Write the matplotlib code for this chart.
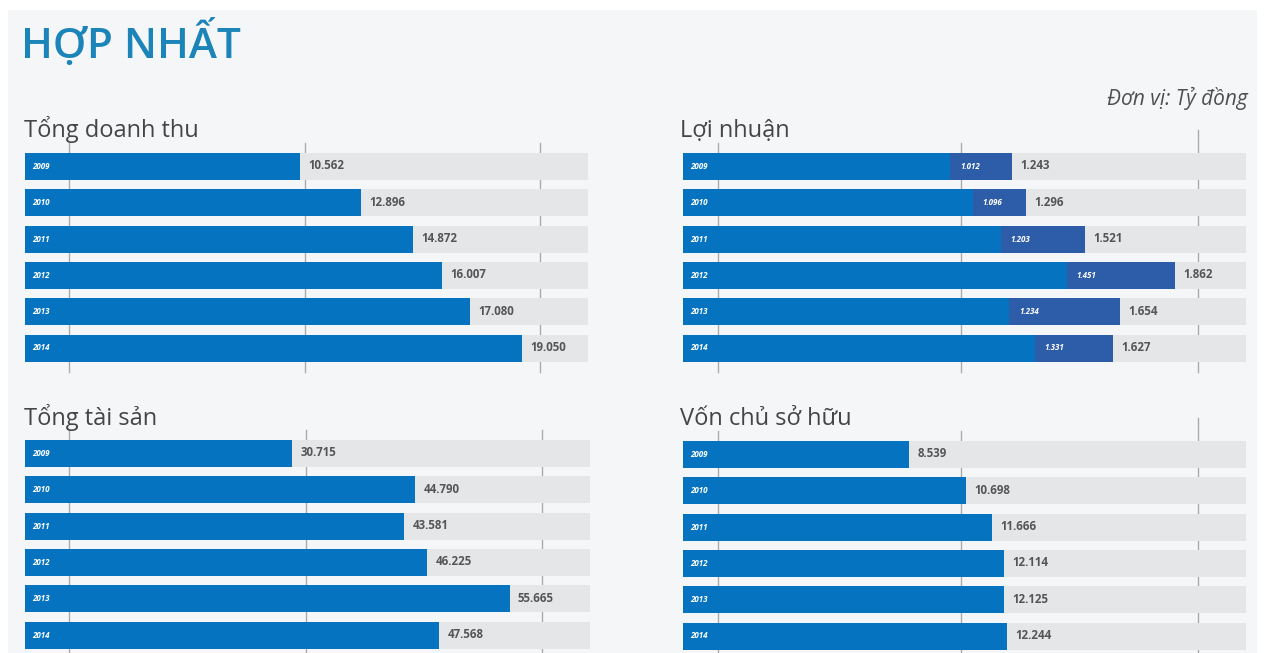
import matplotlib
matplotlib.use("Agg")
import matplotlib.pyplot as plt
from matplotlib.patches import Rectangle

plt.rcParams['font.family'] = ['Open Sans', 'DejaVu Sans']

years = ["2009", "2010", "2011", "2012", "2013", "2014"]
revenue = [10562, 12896, 14872, 16007, 17080, 19050]
profit_pre = [1243, 1296, 1521, 1862, 1654, 1627]
profit_after = [1012, 1096, 1203, 1451, 1234, 1331]
assets = [30715, 44790, 43581, 46225, 55665, 47568]
equity = [8539, 10698, 11666, 12114, 12125, 12244]

titles = ["Tổng doanh thu", "Lợi nhuận", "Tổng tài sản", "Vốn chủ sở hữu"]


def fmt(v):
    return f"{v:,}".replace(",", ".")


W, H = 1265, 653
fig = plt.figure(figsize=(W / 100, H / 100), dpi=100)
fig.patch.set_facecolor("white")
fig.add_artist(Rectangle((8 / W, 0), (W - 16) / W, (H - 10) / H,
                         transform=fig.transFigure, facecolor="#f5f6f7",
                         edgecolor="none", zorder=0))

BLUE = "#0673c0"
DARK = "#2d5ca8"
GREY_BG = "#e5e6e8"
GRID = "#a9abae"
TXT = "#555555"

pitch = 36.3
BAR_PX = 27
PAD_PX = 10
bh = BAR_PX / pitch


def make_axes(x0, x1, y0):
    h = 5 * pitch + BAR_PX + 2 * PAD_PX
    ax = fig.add_axes([x0 / W, 1 - (y0 + h) / H, (x1 - x0) / W, h / H])
    ax.set_facecolor("none")
    ax.axis("off")
    return ax


def panel(ax, values, vmax, grid_fracs, tall_last=False, overlay=None):
    n = len(values)
    pad = PAD_PX / pitch
    ytop0 = -bh / 2 - pad
    ybot = n - 1 + bh / 2 + pad
    ax.set_xlim(0, vmax)
    ax.set_ylim(ybot, ytop0)
    for k, f in enumerate(grid_fracs):
        ytop = ytop0
        if tall_last and k == len(grid_fracs) - 1:
            ytop = ytop0 - 13 / pitch
        ax.plot([f * vmax, f * vmax], [ytop, ybot],
                color=GRID, lw=1.0, zorder=1, clip_on=False)
    ypos = list(range(n))
    ax.barh(ypos, [vmax] * n, height=bh, left=0, color=GREY_BG, zorder=2)
    ax.barh(ypos, values, height=bh, color=BLUE, zorder=3)
    if overlay is not None:
        ax.barh(ypos, [v - o for v, o in zip(values, overlay)], left=overlay,
                height=bh, color=DARK, zorder=4)
        for y, o in zip(ypos, overlay):
            ax.annotate(fmt(o), (o, y), xytext=(7, 0), textcoords="offset points",
                        ha="left", va="center", fontsize=5.8, color="white",
                        fontstyle="italic", fontweight="bold", zorder=6)
    for y, yr, v in zip(ypos, years, values):
        ax.annotate(yr, (0, y), xytext=(5, 0), textcoords="offset points",
                    ha="left", va="center", fontsize=5.8, color="white",
                    fontstyle="italic", fontweight="bold", zorder=6)
        ax.annotate(fmt(v), (v, y), xytext=(6, 0.5), textcoords="offset points",
                    ha="left", va="center", fontsize=8.3, color=TXT,
                    fontweight="bold", zorder=6)


left_grid = [0.078, 0.497, 0.915]
right_grid = [0.062, 0.494, 0.915]

ax1 = make_axes(25, 588, 143)
panel(ax1, revenue, 21600, left_grid)
ax2 = make_axes(683, 1246, 143)
panel(ax2, profit_pre, 2130, right_grid, tall_last=True, overlay=profit_after)
ax3 = make_axes(25, 590, 430)
panel(ax3, assets, 64900, left_grid)
ax4 = make_axes(683, 1246, 431)
panel(ax4, equity, 21250, right_grid, tall_last=True)

fig.text(21 / W, 1 - 58 / H, "HỢP NHẤT", fontsize=30.5, color="#1b84b8",
         fontweight="semibold", ha="left", va="baseline")
fig.text(1248 / W, 1 - 105 / H, "Đơn vị: Tỷ đồng", fontsize=15, color="#505050",
         fontstyle="italic", ha="right", va="baseline")
for (x, y), t in zip([(24, 137), (680, 137), (24, 425), (680, 425)], titles):
    fig.text(x / W, 1 - y / H, t, fontsize=17, color="#454545",
             ha="left", va="baseline")

fig.savefig("out.png", dpi=100, facecolor=fig.get_facecolor())
